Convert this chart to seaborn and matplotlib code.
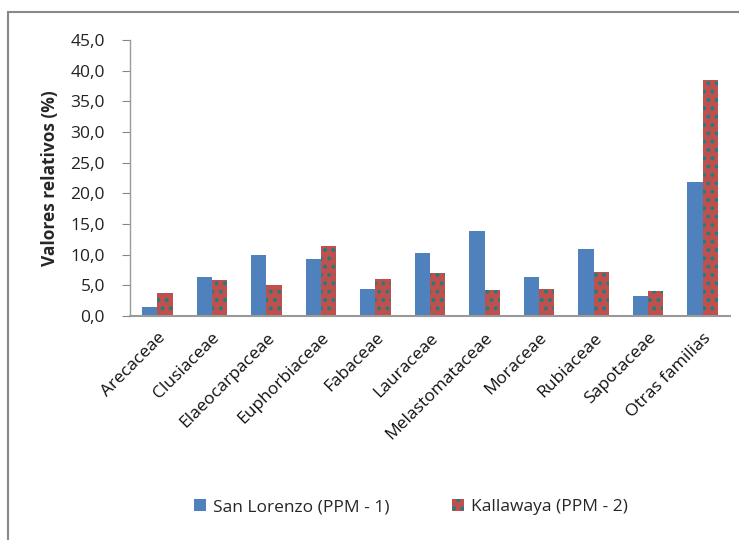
import numpy as np
import pandas as pd
import matplotlib
matplotlib.use("Agg")
import matplotlib.pyplot as plt
import seaborn as sns
from matplotlib.patches import Rectangle, Patch

familias = ["Arecaceae", "Clusiaceae", "Elaeocarpaceae", "Euphorbiaceae", "Fabaceae",
            "Lauraceae", "Melastomataceae", "Moraceae", "Rubiaceae", "Sapotaceae",
            "Otras familias"]
san_lorenzo = [1.5, 6.3, 10.0, 9.3, 4.4, 10.3, 13.8, 6.4, 11.0, 3.3, 21.9]
kallawaya = [3.8, 5.9, 5.0, 11.4, 6.1, 7.0, 4.2, 4.4, 7.1, 4.1, 38.5]
series = ["San Lorenzo (PPM - 1)", "Kallawaya (PPM - 2)"]
yticks = np.arange(0, 45.1, 5)

AZUL, ROJO, VERDE = "#4F81BD", "#C0504D", "#1B8080"

df = pd.DataFrame({
    "Familia": familias * 2,
    "Serie": [series[0]] * len(familias) + [series[1]] * len(familias),
    "Valor": san_lorenzo + kallawaya,
})

sns.set_style("white")
plt.rcParams["font.family"] = ["Open Sans", "DejaVu Sans"]
plt.rcParams["hatch.linewidth"] = 1.6

fig = plt.figure(figsize=(7.39, 5.40), dpi=100)
ax = fig.add_axes([130 / 739, 1 - 316 / 540, 600 / 739, 276 / 540])

sns.barplot(data=df, x="Familia", y="Valor", hue="Serie", order=familias,
            hue_order=series, palette=[AZUL, ROJO], width=0.56, saturation=1,
            ax=ax, legend=False)

n = len(familias)
for i, p in enumerate(ax.patches[:2 * n]):
    p.set_linewidth(0)
    if i >= n:
        p.set_edgecolor(VERDE)
        p.set_hatch("..")

ax.set_ylim(0, 45)
ax.set_yticks(yticks)
ax.set_yticklabels([f"{v:.1f}".replace(".", ",") for v in yticks], fontsize=12.5, color="#222222")
ax.set_xlim(-0.5, n - 0.5)
ax.set_xticks(range(n))
ax.set_xticklabels(familias, rotation=45, ha="right", rotation_mode="anchor", fontsize=12.5, color="#111111")
ax.tick_params(axis="y", which="major", length=6, width=0.8, color="#888888", direction="out", left=True, pad=12)
ax.tick_params(axis="x", length=0, pad=10)
ax.set_xlabel("")
ax.set_ylabel("Valores relativos (%)", fontsize=12.5, fontweight="bold", labelpad=8)

for s in ["top", "right"]:
    ax.spines[s].set_visible(False)
for s in ["left", "bottom"]:
    ax.spines[s].set_color("#999999")
    ax.spines[s].set_linewidth(1.0)
ax.spines["bottom"].set_linewidth(1.5)

# marco del grafico
fig.patches.append(Rectangle((8 / 739, -0.1), 1.2, 1 - 12 / 540 + 0.1, transform=fig.transFigure,
                             fill=False, edgecolor="#888888", linewidth=1.5, zorder=0))

handles = [Patch(facecolor=AZUL, edgecolor=AZUL, linewidth=0),
           Patch(facecolor=ROJO, edgecolor=VERDE, linewidth=0, hatch="..")]
fig.legend(handles, series, loc="center", bbox_to_anchor=(411 / 739, 1 - 507 / 540), ncol=2,
           frameon=False, fontsize=12.5, handlelength=0.7, handleheight=0.7,
           handletextpad=0.4, columnspacing=3.6)

fig.savefig("out.png", dpi=100)
